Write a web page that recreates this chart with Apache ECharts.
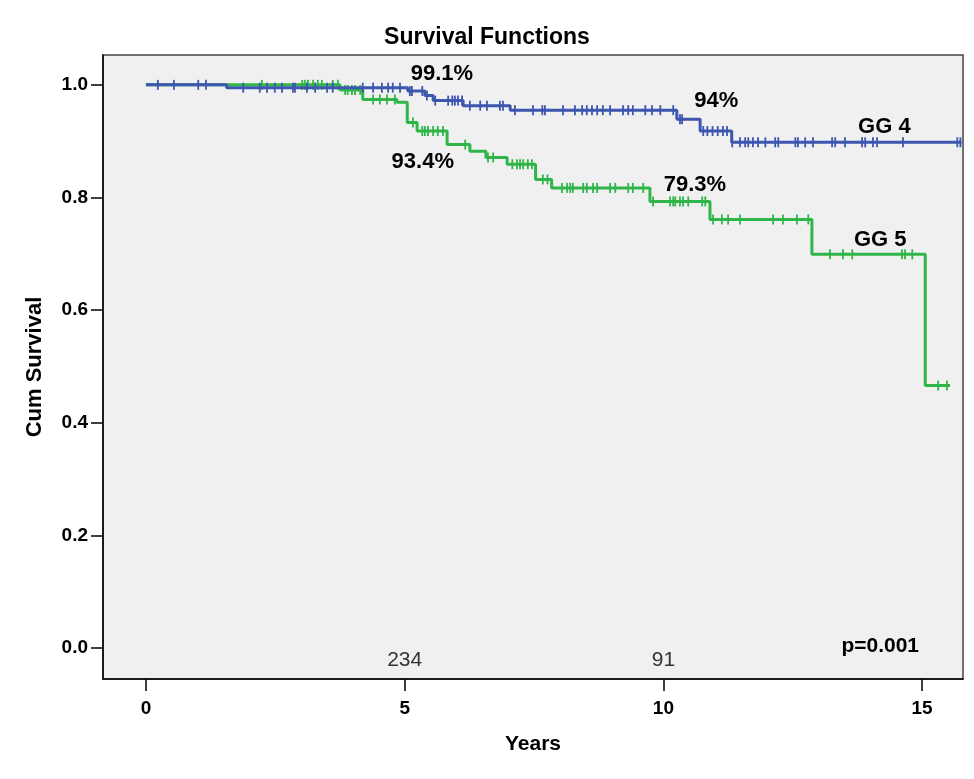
<!DOCTYPE html>
<html>
<head>
<meta charset="utf-8">
<script src="https://cdn.jsdelivr.net/npm/echarts@6/dist/echarts.min.js"></script>
<style>html,body{margin:0;padding:0;background:#fff;}#c{width:974px;height:779px;}</style>
</head>
<body>
<div id="c"></div>
<script>
// Kaplan-Meier step points: [time (years), survival after that time]
const gg4Steps = [[0,1.0],[1.56,0.995],[5.06,0.989],[5.39,0.981],[5.55,0.972],[6.13,0.963],[7.04,0.955],[10.26,0.939],[10.71,0.918],[11.32,0.898]];
const gg4End = 15.76;
const gg4Censored = [0.23,0.54,1.01,1.16,1.88,2.20,2.34,2.49,2.63,2.84,2.88,3.11,3.27,3.50,3.61,4.19,4.39,4.56,4.68,4.77,4.91,5.10,5.14,5.34,5.43,5.59,5.84,5.92,5.97,6.03,6.11,6.26,6.46,6.59,6.84,6.90,7.13,7.48,7.66,7.71,8.06,8.29,8.43,8.52,8.62,8.72,8.83,8.97,9.22,9.32,9.41,9.65,9.78,9.94,10.19,10.32,10.36,10.77,10.85,10.95,11.05,11.15,11.23,11.33,11.48,11.58,11.64,11.73,11.83,11.97,12.16,12.22,12.55,12.60,12.74,12.89,13.26,13.32,13.51,13.84,13.90,14.05,14.13,14.63,15.68,15.74];

const gg5Steps = [[0,1.0],[3.75,0.991],[4.19,0.974],[4.85,0.969],[5.05,0.933],[5.24,0.918],[5.82,0.894],[6.26,0.882],[6.57,0.871],[6.98,0.859],[7.53,0.832],[7.84,0.817],[9.74,0.793],[10.90,0.761],[12.87,0.699],[15.06,0.466]];
const gg5End = 15.54;
const gg5Censored = [2.24,3.02,3.07,3.13,3.23,3.32,3.40,3.61,3.71,3.85,3.90,3.98,4.04,4.14,4.39,4.52,4.66,4.81,5.16,5.34,5.39,5.45,5.55,5.64,5.74,6.17,6.61,6.71,7.08,7.17,7.23,7.29,7.38,7.46,7.67,7.76,8.04,8.14,8.20,8.25,8.45,8.52,8.64,8.72,8.97,9.07,9.32,9.41,9.61,9.80,10.13,10.19,10.23,10.32,10.38,10.48,10.75,10.81,10.96,11.13,11.25,11.48,12.12,12.31,12.58,12.80,13.22,13.47,13.65,14.61,14.67,14.81,15.31,15.48];

const yTicks = [0,0.2,0.4,0.6,0.8,1.0];
const xTicks = [0,5,10,15];

// Annotations: [x (years), y (survival), text]
const boldNotes = [[5.72,1.019,'99.1%'],[11.02,0.971,'94%'],[14.27,0.926,'GG 4'],[5.35,0.864,'93.4%'],[10.61,0.823,'79.3%'],[14.19,0.725,'GG 5']];
const pNote = [[14.19,0.004,'p=0.001']];
const atRiskNotes = [[5,-0.021,'234'],[10,-0.021,'91']];

const blue = '#3d56b0';
const green = '#2fb548';

function survAt(steps, t){ let v = steps[0][1]; for (const s of steps){ if (s[0] <= t) v = s[1]; } return v; }
function lineData(steps, end){ return steps.concat([[end, steps[steps.length-1][1]]]); }
function censData(steps, times){ return times.map(t => [t, survAt(steps, t)]); }

const font = 'Liberation Sans, Arial, sans-serif';
function noteLabel(size, weight, color){
  return { show: true, position: 'inside', formatter: p => p.data[2], fontFamily: font, fontWeight: weight, fontSize: size, color: color, textBorderWidth: 0, textShadowBlur: 0 };
}
const chart = echarts.init(document.getElementById('c'), null, {renderer:'canvas'});
chart.setOption({
  animation: false,
  backgroundColor: '#ffffff',
  title: { text: 'Survival Functions', left: 'center', top: 21, textStyle: { fontFamily: font, fontWeight: 'bold', fontSize: 23, color: '#000' } },
  grid: { left: 103, top: 55, right: 11, bottom: 100, show: true, backgroundColor: '#f0f0f0', borderColor: '#444', borderWidth: 1.5 },
  xAxis: {
    type: 'value', min: -0.83, max: 15.79,
    name: 'Years', nameLocation: 'middle', nameGap: 55,
    nameTextStyle: { fontFamily: font, fontWeight: 'bold', fontSize: 21, color: '#000' },
    axisLine: { show: true, onZero: false, lineStyle: { color: '#000', width: 1.5 } },
    axisTick: { show: true, length: 12, lineStyle: { color: '#000', width: 1.5 }, customValues: xTicks },
    axisLabel: { customValues: xTicks, fontFamily: font, fontWeight: 'bold', fontSize: 19, color: '#000', margin: 20 },
    splitLine: { show: false }
  },
  yAxis: {
    type: 'value', min: -0.055, max: 1.053,
    name: 'Cum Survival', nameLocation: 'middle', nameGap: 57, nameRotate: 90,
    nameTextStyle: { fontFamily: font, fontWeight: 'bold', fontSize: 22, color: '#000' },
    axisLine: { show: true, onZero: false, lineStyle: { color: '#000', width: 1.5 } },
    axisTick: { show: true, length: 12, lineStyle: { color: '#000', width: 1.5 }, customValues: yTicks },
    axisLabel: { customValues: yTicks, formatter: v => v.toFixed(1), fontFamily: font, fontWeight: 'bold', fontSize: 19, color: '#000', margin: 15 },
    splitLine: { show: false }
  },
  series: [
    { type: 'line', step: 'end', data: lineData(gg5Steps, gg5End), showSymbol: false, lineStyle: { color: green, width: 3 }, z: 2 },
    { type: 'scatter', data: censData(gg5Steps, gg5Censored), symbol: 'rect', symbolSize: [1.8, 10], itemStyle: { color: green, opacity: 1 }, z: 3 },
    { type: 'line', step: 'end', data: lineData(gg4Steps, gg4End), showSymbol: false, lineStyle: { color: blue, width: 3 }, z: 4 },
    { type: 'scatter', data: censData(gg4Steps, gg4Censored), symbol: 'rect', symbolSize: [1.8, 10], itemStyle: { color: blue, opacity: 1 }, z: 5 },
    { type: 'scatter', data: boldNotes, symbolSize: 0, silent: true, z: 6, itemStyle: { color: '#000', opacity: 1 }, label: noteLabel(22, 'bold', '#000') },
    { type: 'scatter', data: pNote, symbolSize: 0, silent: true, z: 6, itemStyle: { color: '#000', opacity: 1 }, label: noteLabel(21, 'bold', '#000') },
    { type: 'scatter', data: atRiskNotes, symbolSize: 0, silent: true, z: 6, itemStyle: { color: '#333', opacity: 1 }, label: noteLabel(21, 'normal', '#333') }
  ]
});
</script>
</body>
</html>
